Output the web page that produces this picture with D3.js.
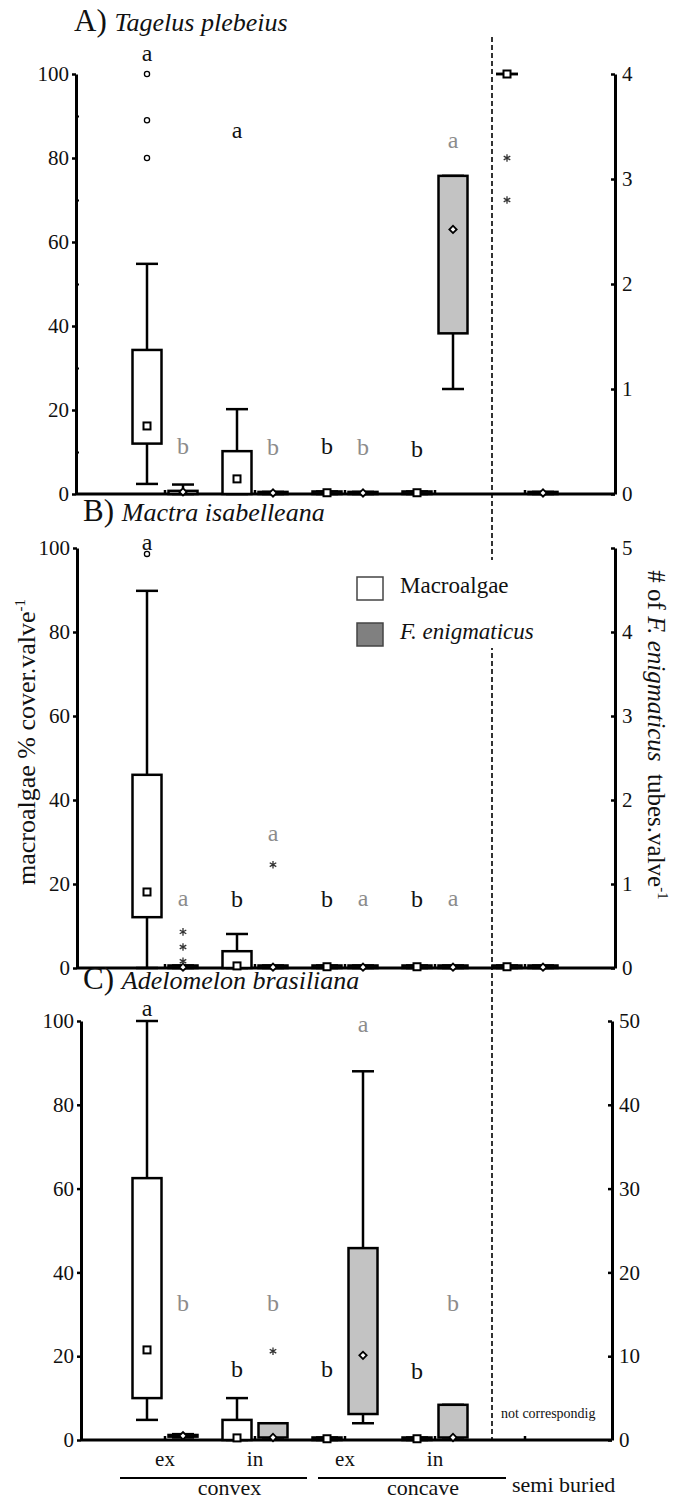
<!DOCTYPE html>
<html>
<head>
<meta charset="utf-8">
<script src="https://cdn.jsdelivr.net/npm/d3@7"></script>
<style>
body { margin: 0; background: #fff; }
svg { display: block; }
svg text { font-family: "Liberation Serif", "Times New Roman", serif; }
</style>
</head>
<body>
<svg id="chart" width="673" height="1499"></svg>
<script>
// categories
var groups = ["convex ex", "convex in", "concave ex", "concave in", "semi buried"];
var groupTicks = ["ex", "in", "ex", "in", ""];
var series = ["Macroalgae", "F. enigmaticus"];

// box stats per group: [low whisker, q1, median, q3, high whisker]
// A) Tagelus plebeius  (macroalgae %, tubes 0-4)
var tagelusAlgae = [[2.4, 12, 16.2, 34.3, 54.8], [0, 0, 3.6, 10.2, 20.2], [0, 0, 0.3, 0.6, 0.6], [0, 0, 0.3, 0.6, 0.6], [100, 100, 100, 100, 100]];
var tagelusAlgaeOutliers = [[80, 89, 100], [], [], [], []];
var tagelusAlgaeExtremes = [[], [], [], [], [70, 80]];
var tagelusTubes = [[0, 0, 0.02, 0.03, 0.09], [0, 0, 0.01, 0.02, 0.02], [0, 0, 0.01, 0.02, 0.02], [1.0, 1.53, 2.52, 3.03, 3.03], [0, 0, 0.01, 0.02, 0.02]];
var tagelusTubesExtremes = [[], [], [], [], []];
var tagelusAlgaeLetters = ["a", "a", "b", "b", ""];
var tagelusAlgaeLetterAt = [103, 84.8, 9.5, 8.8, null];
var tagelusTubesLetters = ["b", "b", "b", "a", ""];
var tagelusTubesLetterAt = [0.38, 0.37, 0.37, 3.3, null];

// B) Mactra isabelleana  (macroalgae %, tubes 0-5)
var mactraAlgae = [[0, 12.1, 18.1, 46, 89.8], [0, 0, 0.5, 4.0, 8.1], [0, 0, 0.3, 0.6, 0.6], [0, 0, 0.3, 0.6, 0.6], [0, 0, 0.3, 0.6, 0.6]];
var mactraAlgaeOutliers = [[98.6], [], [], [], []];
var mactraAlgaeExtremes = [[], [], [], [], []];
var mactraTubes = [[0, 0, 0.01, 0.03, 0.03], [0, 0, 0.01, 0.03, 0.03], [0, 0, 0.01, 0.03, 0.03], [0, 0, 0.01, 0.03, 0.03], [0, 0, 0.01, 0.03, 0.03]];
var mactraTubesExtremes = [[0.08, 0.25, 0.43], [1.23], [], [], []];
var mactraAlgaeLetters = ["a", "b", "b", "b", ""];
var mactraAlgaeLetterAt = [99.5, 14.5, 14.5, 14.5, null];
var mactraTubesLetters = ["a", "a", "a", "a", ""];
var mactraTubesLetterAt = [0.74, 1.51, 0.74, 0.74, null];

// C) Adelomelon brasiliana  (macroalgae %, tubes 0-50)
var adelomelonAlgae = [[4.8, 10, 21.5, 62.5, 100], [0, 0, 0.5, 4.8, 10], [0, 0, 0.3, 0.6, 0.6], [0, 0, 0.3, 0.6, 0.6], null];
var adelomelonAlgaeOutliers = [[], [], [], [], []];
var adelomelonAlgaeExtremes = [[], [], [], [], []];
var adelomelonTubes = [[0.3, 0.4, 0.5, 0.6, 0.7], [0.3, 0.3, 0.3, 2.0, 2.0], [2.0, 3.1, 10.1, 22.9, 44], [0.3, 0.3, 0.3, 4.2, 4.2], null];
var adelomelonTubesExtremes = [[], [10.6], [], [], []];
var adelomelonAlgaeLetters = ["a", "b", "b", "b", ""];
var adelomelonAlgaeLetterAt = [101.2, 15, 15, 14.6, null];
var adelomelonTubesLetters = ["b", "b", "a", "b", ""];
var adelomelonTubesLetterAt = [15.4, 15.4, 48.7, 15.4, null];

var algaeTicks = [0, 20, 40, 60, 80, 100];
var algaeMinorTicks = [10, 30, 50, 70, 90];

var panels = [
  {label: "A)", species: "Tagelus plebeius", titleX: 74, titleY: 31, top: 74, bottom: 494, left: 76, right: 615,
   tubesMax: 4, tubesTicks: [0, 1, 2, 3, 4], minor: true,
   algae: tagelusAlgae, algaeOut: tagelusAlgaeOutliers, algaeExt: tagelusAlgaeExtremes,
   tubes: tagelusTubes, tubesExt: tagelusTubesExtremes,
   algaeLetters: tagelusAlgaeLetters, algaeLetterAt: tagelusAlgaeLetterAt,
   tubesLetters: tagelusTubesLetters, tubesLetterAt: tagelusTubesLetterAt},
  {label: "B)", species: "Mactra isabelleana", titleX: 83, titleY: 521, top: 548, bottom: 968, left: 77, right: 615,
   tubesMax: 5, tubesTicks: [0, 1, 2, 3, 4, 5], minor: false,
   algae: mactraAlgae, algaeOut: mactraAlgaeOutliers, algaeExt: mactraAlgaeExtremes,
   tubes: mactraTubes, tubesExt: mactraTubesExtremes,
   algaeLetters: mactraAlgaeLetters, algaeLetterAt: mactraAlgaeLetterAt,
   tubesLetters: mactraTubesLetters, tubesLetterAt: mactraTubesLetterAt},
  {label: "C)", species: "Adelomelon brasiliana", titleX: 83, titleY: 989, top: 1021, bottom: 1440, left: 81, right: 612,
   tubesMax: 50, tubesTicks: [0, 10, 20, 30, 40, 50], minor: false,
   algae: adelomelonAlgae, algaeOut: adelomelonAlgaeOutliers, algaeExt: adelomelonAlgaeExtremes,
   tubes: adelomelonTubes, tubesExt: adelomelonTubesExtremes,
   algaeLetters: adelomelonAlgaeLetters, algaeLetterAt: adelomelonAlgaeLetterAt,
   tubesLetters: adelomelonTubesLetters, tubesLetterAt: adelomelonTubesLetterAt}
];

var svg = d3.select("#chart");
var serif = "'Liberation Serif', 'Times New Roman', serif";
var grey = "#8c8c8c",
    boxGrey = "#c3c3c3";

var x = d3.scaleBand().domain(groups).range([120, 570]);
var sub = d3.scalePoint().domain(series).range([27, 63]);
var boxW = 29, capW = 22;

function drawBoxes(g, stats, y, key) {
  var items = groups.map(function(grp, i) { return {group: grp, s: stats[i]}; })
    .filter(function(d) { return d.s; });
  var cx = function(d) { return x(d.group) + sub(key); };
  var isAlgae = key === series[0];

  var b = g.selectAll(null).data(items).enter().append("g")
      .attr("stroke", "#000")
      .attr("stroke-width", 2.5);

  b.append("line")
      .attr("x1", cx).attr("x2", cx)
      .attr("y1", function(d) { return y(d.s[0]); })
      .attr("y2", function(d) { return y(d.s[1]); });
  b.append("line")
      .attr("x1", cx).attr("x2", cx)
      .attr("y1", function(d) { return y(d.s[3]); })
      .attr("y2", function(d) { return y(d.s[4]); });
  [0, 4].forEach(function(k) {
    b.append("line")
        .attr("x1", function(d) { return cx(d) - capW / 2; })
        .attr("x2", function(d) { return cx(d) + capW / 2; })
        .attr("y1", function(d) { return y(d.s[k]); })
        .attr("y2", function(d) { return y(d.s[k]); });
  });
  b.append("rect")
      .attr("x", function(d) { return cx(d) - boxW / 2; })
      .attr("width", boxW)
      .attr("y", function(d) { return y(d.s[3]); })
      .attr("height", function(d) { return Math.max(0, y(d.s[1]) - y(d.s[3])); })
      .attr("fill", isAlgae ? "#fff" : boxGrey);

  if (isAlgae) {
    b.append("rect")
        .attr("x", function(d) { return cx(d) - 3.5; })
        .attr("y", function(d) { return y(d.s[2]) - 3.5; })
        .attr("width", 7).attr("height", 7)
        .attr("fill", "#fff")
        .attr("stroke-width", 2);
  } else {
    b.append("path")
        .attr("transform", function(d) { return "translate(" + cx(d) + "," + y(d.s[2]) + ") rotate(45)"; })
        .attr("d", "M-2.6,-2.6H2.6V2.6H-2.6Z")
        .attr("fill", "#fff")
        .attr("stroke-width", 1.8);
  }
}

function drawPoints(g, pts, y, key, shape) {
  var items = [];
  groups.forEach(function(grp, i) {
    (pts[i] || []).forEach(function(v) { items.push({group: grp, v: v}); });
  });
  var cx = function(d) { return x(d.group) + sub(key); };
  if (shape === "circle") {
    g.selectAll(null).data(items).enter().append("circle")
        .attr("cx", cx)
        .attr("cy", function(d) { return y(d.v); })
        .attr("r", 2.6)
        .attr("fill", "#fff")
        .attr("stroke", "#000")
        .attr("stroke-width", 1.3);
  } else {
    g.selectAll(null).data(items).enter().append("path")
        .attr("transform", function(d) { return "translate(" + cx(d) + "," + y(d.v) + ")"; })
        .attr("d", d3.symbol(d3.symbolAsterisk, 40))
        .attr("fill", "none")
        .attr("stroke", "#333")
        .attr("stroke-width", 1.3);
  }
}

function drawLetters(g, letters, at, y, key, color) {
  var items = groups.map(function(grp, i) { return {group: grp, t: letters[i], v: at[i]}; })
    .filter(function(d) { return d.t && d.v != null; });
  g.selectAll(null).data(items).enter().append("text")
      .attr("x", function(d) { return x(d.group) + sub(key); })
      .attr("y", function(d) { return y(d.v); })
      .attr("text-anchor", "middle")
      .style("font-family", serif)
      .style("font-size", "24px")
      .attr("fill", color)
      .text(function(d) { return d.t; });
}

function drawPanel(p, i) {
  var yL = d3.scaleLinear().domain([0, 100]).range([p.bottom, p.top]);
  var yR = d3.scaleLinear().domain([0, p.tubesMax]).range([p.bottom, p.top]);
  var g = svg.append("g").attr("class", "panel");

  // title
  var t = g.append("text")
      .attr("x", p.titleX)
      .attr("y", p.titleY)
      .style("font-family", serif)
      .attr("fill", "#111");
  t.append("tspan").style("font-size", "31px").text(p.label + " ");
  t.append("tspan").style("font-size", "26px").style("font-style", "italic").text(p.species);

  // left axis
  var la = g.append("g")
      .attr("transform", "translate(" + p.left + ",0)")
      .call(d3.axisLeft(yL).tickValues(algaeTicks).tickSize(4).tickSizeOuter(0).tickPadding(3));
  if (p.minor) {
    g.append("g")
        .attr("transform", "translate(" + p.left + ",0)")
        .call(d3.axisLeft(yL).tickValues(algaeMinorTicks).tickSize(-3).tickFormat(""))
        .call(function(a) {
          a.select(".domain").remove();
          a.selectAll(".tick line").attr("stroke-width", 2);
        });
  }

  // right axis
  var ra = g.append("g")
      .attr("transform", "translate(" + p.right + ",0)")
      .call(d3.axisRight(yR).tickValues(p.tubesTicks).tickFormat(d3.format("d"))
        .tickSize(-4).tickSizeOuter(0).tickPadding(7));

  // bottom axis
  g.append("line")
      .attr("x1", p.left).attr("x2", p.right)
      .attr("y1", p.bottom).attr("y2", p.bottom)
      .attr("stroke", "#000").attr("stroke-width", 3);
  var ba = g.append("g")
      .attr("transform", "translate(0," + p.bottom + ")")
      .call(d3.axisBottom(x).tickSize(-4).tickPadding(11)
        .tickFormat(function(d, k) { return i === 2 ? groupTicks[k] : ""; }));
  ba.select(".domain").remove();

  [la, ra, ba].forEach(function(a) {
    a.attr("font-family", null);
    a.selectAll(".domain").attr("stroke-width", 3);
    a.selectAll(".tick line").attr("stroke-width", 2.5);
    a.selectAll("text")
        .style("font-family", serif)
        .style("font-size", "21px")
        .attr("fill", "#111");
  });

  drawBoxes(g, p.tubes, yR, series[1]);
  drawBoxes(g, p.algae, yL, series[0]);
  drawPoints(g, p.algaeOut, yL, series[0], "circle");
  drawPoints(g, p.algaeExt, yL, series[0], "asterisk");
  drawPoints(g, p.tubesExt, yR, series[1], "asterisk");
  drawLetters(g, p.algaeLetters, p.algaeLetterAt, yL, series[0], "#111");
  drawLetters(g, p.tubesLetters, p.tubesLetterAt, yR, series[1], grey);
}

panels.forEach(drawPanel);

// divider before semi buried
var divX = x(groups[4]) + 12;
svg.append("line")
    .attr("x1", divX).attr("x2", divX)
    .attr("y1", 37).attr("y2", panels[2].bottom)
    .attr("stroke", "#000")
    .attr("stroke-width", 1.6)
    .attr("stroke-dasharray", "5,3");

svg.append("text")
    .attr("x", divX + 9)
    .attr("y", 1418)
    .style("font-family", serif)
    .style("font-size", "14px")
    .attr("fill", "#111")
    .text("not correspondig");

// axis titles
var lt = svg.append("text")
    .attr("transform", "translate(35,742) rotate(-90)")
    .attr("text-anchor", "middle")
    .style("font-family", serif)
    .style("font-size", "26px")
    .attr("fill", "#111");
lt.append("tspan").text("macroalgae % cover.valve");
lt.append("tspan").style("font-size", "15px").attr("dy", -10).text("-1");

var rt = svg.append("text")
    .attr("transform", "translate(648,735) rotate(90)")
    .attr("text-anchor", "middle")
    .style("font-family", serif)
    .style("font-size", "25px")
    .attr("fill", "#111");
rt.append("tspan").text("# of ");
rt.append("tspan").style("font-style", "italic").text("F. enigmaticus");
rt.append("tspan").text("\u00a0 tubes.valve");
rt.append("tspan").style("font-size", "15px").attr("dy", -10).text("-1");

// legend
var lg = svg.append("g").attr("transform", "translate(350,560)");
lg.append("rect").attr("width", 215).attr("height", 88).attr("fill", "#fff");
var li = lg.selectAll(null).data(series).enter().append("g")
    .attr("transform", function(d, k) { return "translate(7," + (17 + k * 46) + ")"; });
li.append("rect")
    .attr("width", 26).attr("height", 23)
    .attr("fill", function(d, k) { return k ? "#808080" : "#fff"; })
    .attr("stroke", "#444")
    .attr("stroke-width", 1.5);
li.append("text")
    .attr("x", 43).attr("y", 16)
    .style("font-family", serif)
    .style("font-size", "23px")
    .style("font-style", function(d, k) { return k ? "italic" : "normal"; })
    .attr("fill", "#111")
    .text(function(d) { return d; });

// category brackets
var yb = panels[2].bottom + 38;
var brackets = [
  {name: "convex", x1: x(groups[0]), x2: x(groups[1]) + x.bandwidth() + 7, dx: 16},
  {name: "concave", x1: x(groups[2]) + 18, x2: x(groups[3]) + x.bandwidth() + 26, dx: 11}
];
brackets.forEach(function(b) {
  svg.append("line")
      .attr("x1", b.x1).attr("x2", b.x2)
      .attr("y1", yb).attr("y2", yb)
      .attr("stroke", "#000").attr("stroke-width", 2);
  svg.append("text")
      .attr("x", (b.x1 + b.x2) / 2 + b.dx)
      .attr("y", yb + 17)
      .attr("text-anchor", "middle")
      .style("font-family", serif)
      .style("font-size", "22px")
      .attr("fill", "#111")
      .text(b.name);
});
svg.append("text")
    .attr("x", x(groups[4]) + 32)
    .attr("y", yb + 14)
    .style("font-family", serif)
    .style("font-size", "22px")
    .attr("fill", "#111")
    .text(groups[4]);
</script>
</body>
</html>
